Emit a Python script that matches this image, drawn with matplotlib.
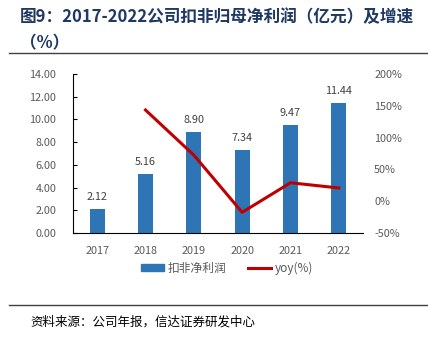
import matplotlib
matplotlib.use("Agg")
import matplotlib.pyplot as plt
from matplotlib.lines import Line2D

plt.rcParams['font.family'] = ['Noto Sans CJK SC', 'DejaVu Sans']

years = ['2017', '2018', '2019', '2020', '2021', '2022']
profit = [2.12, 5.16, 8.90, 7.34, 9.47, 11.44]
yoy = [None, 143.4, 72.5, -17.5, 29.0, 20.8]
left_ticks = [0, 2, 4, 6, 8, 10, 12, 14]
right_ticks = [-50, 0, 50, 100, 150, 200]

W, H = 428, 341
fig = plt.figure(figsize=(W/100, H/100), dpi=100)

def fx(x): return x / W
def fy(y): return 1 - y / H

ax = fig.add_axes([fx(73), fy(233), fx(363-73), (233-74)/H])
x = list(range(len(years)))
bar_color = '#2E75B6'
ax.bar(x, profit, width=0.31, color=bar_color, zorder=2)
ax.set_xlim(-0.5, len(years) - 0.5)
ax.set_ylim(0, 14)
ax.set_yticks(left_ticks)
ax.set_yticklabels([f'{v:.2f}' for v in left_ticks])
ax.set_xticks(x)
ax.set_xticklabels(years)
for i, v in enumerate(profit):
    ax.text(i, v + 0.62, f'{v:.2f}', ha='center', va='bottom', fontsize=7.8, color='#404040')

for s in ['top', 'right']:
    ax.spines[s].set_visible(False)
ax.spines['left'].set_color('black')
ax.spines['bottom'].set_color('black')
ax.tick_params(axis='y', direction='in', length=3, labelsize=7.8, labelcolor='#595959', pad=12)
ax.tick_params(axis='x', length=0, labelsize=7.8, labelcolor='#595959', pad=9)

ax2 = ax.twinx()
yx = [i for i, v in enumerate(yoy) if v is not None]
yv = [v for v in yoy if v is not None]
ax2.plot(yx, yv, color='#C00000', lw=2.2, zorder=3)
ax2.set_ylim(-50, 200)
ax2.set_yticks(right_ticks)
ax2.set_yticklabels([f'{v}%' for v in right_ticks])
for s in ['top', 'right', 'left', 'bottom']:
    ax2.spines[s].set_visible(False)
ax2.tick_params(axis='y', length=0, labelsize=7.8, labelcolor='#595959', pad=8)

# legend
handles = [plt.Rectangle((0, 0), 1, 1, color=bar_color),
           Line2D([0], [0], color='#C00000', lw=2.2)]
fig.legend(handles, ['扣非净利润', 'yoy(%)'], loc='center', bbox_to_anchor=(fx(227), fy(268)),
           ncol=2, frameon=False, fontsize=8.5, handlelength=2.0, handleheight=0.6,
           columnspacing=1.8, handletextpad=0.3, labelcolor='#595959')

# title
title_color = '#1F3864'
fig.text(fx(20), fy(17), '图9：2017-2022公司扣非归母净利润（亿元）及增速', fontsize=12,
         fontweight='bold', color=title_color, va='center', ha='left')
fig.text(fx(20), fy(43), '（%）', fontsize=12, fontweight='bold', color=title_color,
         va='center', ha='left')
fig.add_artist(Line2D([fx(9), fx(428)], [fy(53), fy(53)], color='#404040', lw=1))
fig.add_artist(Line2D([fx(9), fx(428)], [fy(305), fy(305)], color='#404040', lw=1))
fig.text(fx(30), fy(322), '资料来源：公司年报，信达证券研发中心', fontsize=9, style='italic',
         color='black', va='center', ha='left')

fig.savefig('out.png', dpi=100)
